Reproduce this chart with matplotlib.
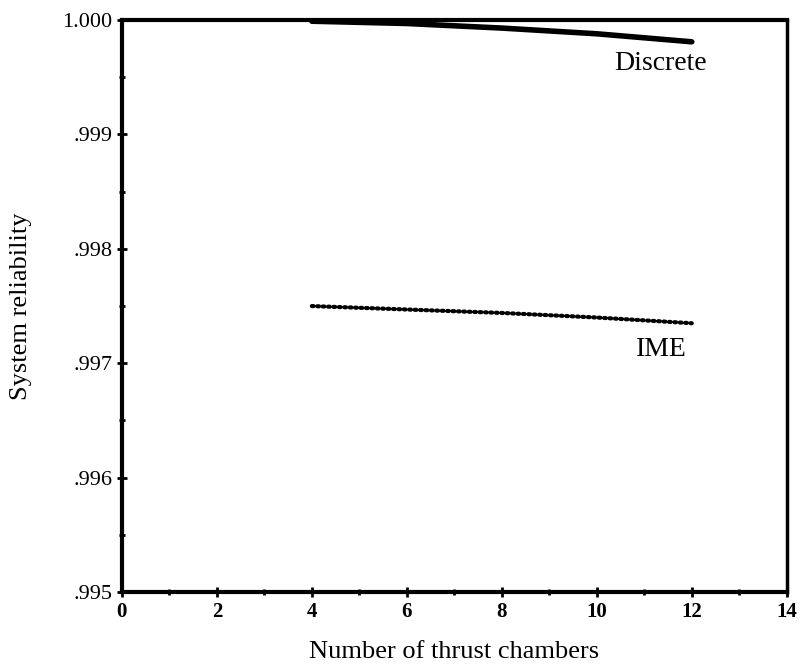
import matplotlib.pyplot as plt
from matplotlib.ticker import MultipleLocator, FixedLocator, FixedFormatter

plt.rcParams['font.family'] = ['Liberation Serif', 'DejaVu Serif']

# nombre de chambres de poussee
chambres = [4, 6, 8, 10, 12]
discrete = [0.99999, 0.99997, 0.99993, 0.99988, 0.99981]
ime = [0.99750, 0.99747, 0.99744, 0.99740, 0.99735]

y_ticks = [0.995, 0.996, 0.997, 0.998, 0.999, 1.000]
y_labels = ['.995', '.996', '.997', '.998', '.999', '1.000']

fig = plt.figure(figsize=(8.02, 6.69), dpi=100)
ax = fig.add_axes([0.152, 0.115, 0.829, 0.855])

ax.plot(chambres, discrete, color='black', lw=4, solid_capstyle='round')
ax.plot(chambres, ime, color='black', lw=3, linestyle=(0, (0.4, 0.9)), dash_capstyle='round')

ax.text(11.35, 0.99962, 'Discrete', fontsize=20, ha='center', va='center')
ax.text(11.35, 0.99712, 'IME', fontsize=20, ha='center', va='center')

ax.set_xlim(0, 14)
ax.set_ylim(0.995, 1.000)
ax.xaxis.set_major_locator(MultipleLocator(2))
ax.xaxis.set_minor_locator(MultipleLocator(1))
ax.yaxis.set_major_locator(FixedLocator(y_ticks))
ax.yaxis.set_major_formatter(FixedFormatter(y_labels))
ax.yaxis.set_minor_locator(MultipleLocator(0.0005))

ax.tick_params(which='both', direction='inout', length=7, width=2)
ax.tick_params(which='minor', length=5)
ax.tick_params(axis='y', labelsize=16)
ax.tick_params(axis='x', labelsize=15)
for lab in ax.get_xticklabels():
    lab.set_fontweight('bold')

for s in ax.spines.values():
    s.set_linewidth(2.5)
ax.spines['top'].set_linewidth(3)
ax.spines['left'].set_linewidth(3)
ax.spines['bottom'].set_linewidth(3)

ax.set_xlabel('Number of thrust chambers', fontsize=19, labelpad=14)
ax.set_ylabel('System reliability', fontsize=19, labelpad=22)

plt.savefig('out.png', dpi=100)
